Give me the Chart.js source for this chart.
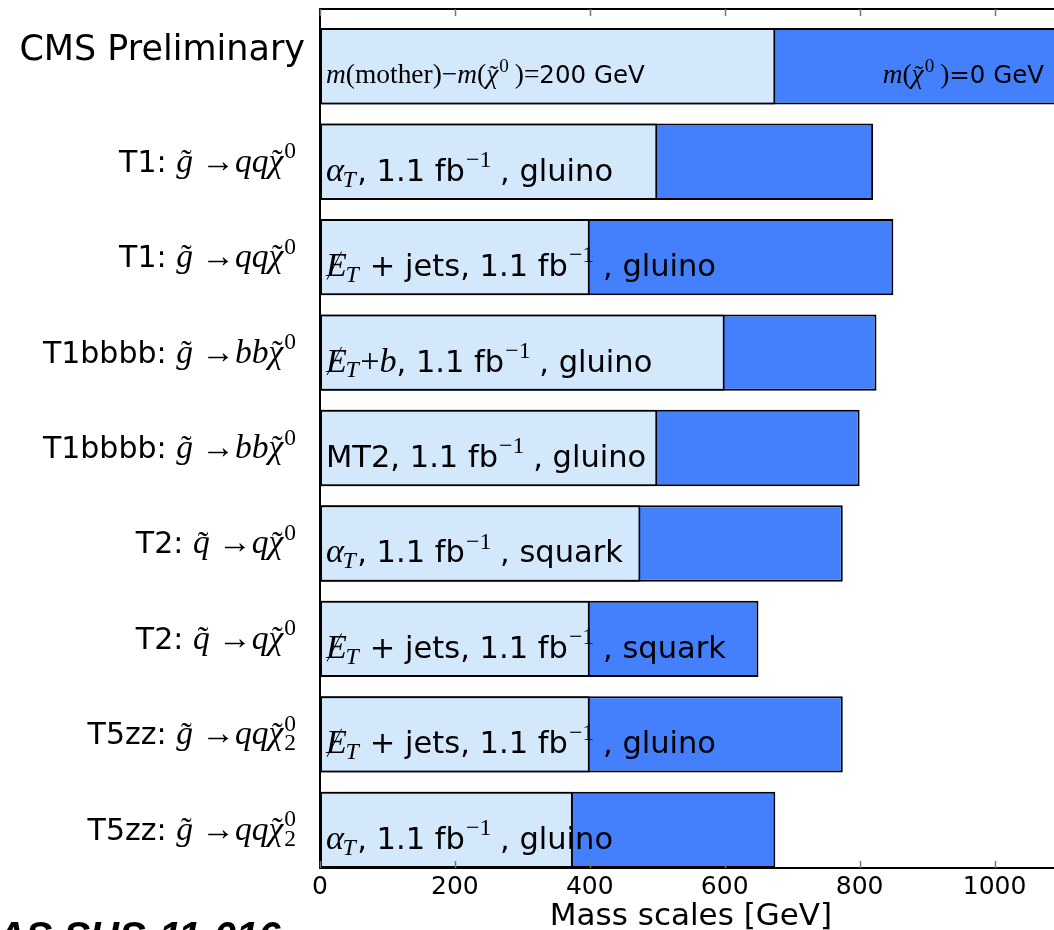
<!DOCTYPE html>
<html>
<head>
<meta charset="utf-8">
<script src="https://cdn.jsdelivr.net/npm/chart.js@4.4.0/dist/chart.umd.min.js"></script>
<style>
  html, body { margin: 0; padding: 0; background: #fff; overflow: hidden; }
  canvas { display: block; }
</style>
</head>
<body>
<canvas id="massChart" width="1066" height="930"></canvas>
<script>
// rows from top to bottom (row 0 is the legend row)
const rowLabels = [
    [['CMS Preliminary', 'sf']],
    [['T1: ', 'sf'], ['g', 'tl'], [' \u2192', 'rm'], ['qq', 'it'], ['\u03c7', 'tl'], ['0', 'sup']],
    [['T1: ', 'sf'], ['g', 'tl'], [' \u2192', 'rm'], ['qq', 'it'], ['\u03c7', 'tl'], ['0', 'sup']],
    [['T1bbbb: ', 'sf'], ['g', 'tl'], [' \u2192', 'rm'], ['bb', 'it'], ['\u03c7', 'tl'], ['0', 'sup']],
    [['T1bbbb: ', 'sf'], ['g', 'tl'], [' \u2192', 'rm'], ['bb', 'it'], ['\u03c7', 'tl'], ['0', 'sup']],
    [['T2: ', 'sf'], ['q', 'tl'], [' \u2192', 'rm'], ['q', 'it'], ['\u03c7', 'tl'], ['0', 'sup']],
    [['T2: ', 'sf'], ['q', 'tl'], [' \u2192', 'rm'], ['q', 'it'], ['\u03c7', 'tl'], ['0', 'sup']],
    [['T5zz: ', 'sf'], ['g', 'tl'], [' \u2192', 'rm'], ['qq', 'it'], ['\u03c7', 'tl'], ['0|2', 'supsub']],
    [['T5zz: ', 'sf'], ['g', 'tl'], [' \u2192', 'rm'], ['qq', 'it'], ['\u03c7', 'tl'], ['0|2', 'supsub']]
];

const barTexts = [
    [['m', 'it'], ['(mother)\u2212', 'rm'], ['m', 'it'], ['(', 'rm'], ['\u03c7', 'tl'], ['0', 'sup'], [' )=', 'rm'], ['200 GeV', 'sf']],
    [['\u03b1', 'it'], ['T', 'subit'], [', 1.1 fb', 'sf'], ['\u22121', 'sup'], [' , gluino', 'sf']],
    [['E', 'met'], ['T', 'subit'], [' + jets, 1.1 fb', 'sf'], ['\u22121', 'sup'], [' , gluino', 'sf']],
    [['E', 'met'], ['T', 'subit'], ['+', 'rm'], ['b', 'it'], [', 1.1 fb', 'sf'], ['\u22121', 'sup'], [' , gluino', 'sf']],
    [['MT2, 1.1 fb', 'sf'], ['\u22121', 'sup'], [' , gluino', 'sf']],
    [['\u03b1', 'it'], ['T', 'subit'], [', 1.1 fb', 'sf'], ['\u22121', 'sup'], [' , squark', 'sf']],
    [['E', 'met'], ['T', 'subit'], [' + jets, 1.1 fb', 'sf'], ['\u22121', 'sup'], [' , squark', 'sf']],
    [['E', 'met'], ['T', 'subit'], [' + jets, 1.1 fb', 'sf'], ['\u22121', 'sup'], [' , gluino', 'sf']],
    [['\u03b1', 'it'], ['T', 'subit'], [', 1.1 fb', 'sf'], ['\u22121', 'sup'], [' , gluino', 'sf']]
];
const legendRightText = [['m', 'it'], ['(', 'rm'], ['\u03c7', 'tl'], ['0', 'sup'], [' )', 'rm'], ['=0 GeV', 'sf']];

// mass limits in GeV
const limitsDm200 = [675, 500, 400, 600, 500, 475, 400, 400, 375];   // m(mother)-m(LSP)=200 GeV
const limitsLsp0  = [1200, 820, 850, 825, 800, 775, 650, 775, 675];  // m(LSP)=0 GeV

const xTicks = [0, 200, 400, 600, 800, 1000];

const MATH = 1.12;

function segFont(kind, size) {
    const m = size * MATH;
    switch (kind) {
        case 'sf': return size + 'px "DejaVu Sans"';
        case 'it': case 'met': case 'tl': return 'italic ' + m + 'px "Liberation Serif"';
        case 'rm': return m + 'px "Liberation Serif"';
        case 'subit': return 'italic ' + (m * 0.7) + 'px "Liberation Serif"';
        default: return (m * 0.7) + 'px "Liberation Serif"';
    }
}

function segWidth(ctx, seg, size) {
    ctx.font = segFont(seg[1], size);
    if (seg[1] === 'supsub') {
        return Math.max(...seg[0].split('|').map(t => ctx.measureText(t).width));
    }
    return ctx.measureText(seg[0]).width;
}

function drawRich(ctx, segs, x, y, size, align) {
    let total = 0;
    segs.forEach(s => total += segWidth(ctx, s, size));
    let cx = align === 'right' ? x - total : x;
    const m = size * MATH;
    ctx.textAlign = 'left';
    ctx.textBaseline = 'alphabetic';
    ctx.fillStyle = '#000';
    segs.forEach(s => {
        const w = segWidth(ctx, s, size);
        ctx.font = segFont(s[1], size);
        if (s[1] === 'sup') {
            ctx.fillText(s[0], cx + 1, y - m * 0.4);
        } else if (s[1] === 'subit') {
            ctx.fillText(s[0], cx - m * 0.04, y + m * 0.17);
        } else if (s[1] === 'supsub') {
            const parts = s[0].split('|');
            ctx.fillText(parts[0], cx + 1, y - m * 0.4);
            ctx.fillText(parts[1], cx + 1, y + m * 0.17);
        } else if (s[1] === 'tl') {
            ctx.fillText(s[0], cx, y);
            ctx.font = (m * 0.95) + 'px "Liberation Serif"';
            ctx.textAlign = 'center';
            ctx.fillText('\u02dc', cx + w * 0.6, y - m * 0.02);
            ctx.textAlign = 'left';
        } else if (s[1] === 'met') {
            ctx.fillText(s[0], cx, y);
            ctx.save();
            ctx.strokeStyle = '#000';
            ctx.lineWidth = 1;
            ctx.beginPath();
            ctx.moveTo(cx + w * 0.05, y + m * 0.1);
            ctx.lineTo(cx + w * 0.75, y - m * 0.72);
            ctx.stroke();
            ctx.restore();
        } else {
            ctx.fillText(s[0], cx, y);
        }
        cx += w;
    });
}

const decorations = {
    id: 'decorations',
    afterDatasetsDraw(chart) {
        const ctx = chart.ctx;
        const area = chart.chartArea;
        const xs = chart.scales.x;
        const ys = chart.scales.y;

        // frame
        ctx.save();
        ctx.strokeStyle = '#000';
        ctx.lineWidth = 2;
        ctx.strokeRect(area.left, area.top, area.right - area.left, area.bottom - area.top);

        // inward ticks top and bottom
        ctx.strokeStyle = '#777';
        ctx.lineWidth = 1.5;
        xTicks.forEach(v => {
            const px = Math.round(xs.getPixelForValue(v)) + 0.5;
            ctx.beginPath();
            ctx.moveTo(px, area.bottom);
            ctx.lineTo(px, area.bottom - 7);
            ctx.moveTo(px, area.top);
            ctx.lineTo(px, area.top + 7);
            ctx.stroke();
        });

        // row labels and bar texts
        rowLabels.forEach((segs, i) => {
            const cy = ys.getPixelForValue(i);
            if (i === 0) {
                drawRich(ctx, segs, 305, cy - 6, 35, 'right');
                drawRich(ctx, barTexts[i], area.left + 6, cy + 17, 24.5, 'left');
                drawRich(ctx, legendRightText, 1044, cy + 17, 24.5, 'right');
            } else {
                drawRich(ctx, segs, 295, cy + 10, 30, 'right');
                drawRich(ctx, barTexts[i], area.left + 6, cy + 19, 30.5, 'left');
            }
        });

        // analysis reference, cut at the bottom edge
        ctx.font = 'italic bold 40px "Liberation Sans"';
        ctx.fillStyle = '#000';
        ctx.textAlign = 'left';
        ctx.fillText('PAS SUS-11-016', -27, 950);
        ctx.restore();
    }
};

const ctx = document.getElementById('massChart').getContext('2d');

new Chart(ctx, {
    type: 'bar',
    data: {
        datasets: [
            {
                label: 'm(mother)-m(LSP)=200 GeV',
                data: limitsDm200.map((v, i) => ({ x: v, y: i })),
                backgroundColor: '#d4e8fc',
                borderColor: '#000',
                borderWidth: 2,
                borderSkipped: false,
                grouped: false,
                categoryPercentage: 1,
                barPercentage: 0.8
            },
            {
                label: 'm(LSP)=0 GeV',
                data: limitsLsp0.map((v, i) => ({ x: v, y: i })),
                backgroundColor: '#4480fc',
                borderColor: '#000',
                borderWidth: 2,
                borderSkipped: false,
                grouped: false,
                categoryPercentage: 1,
                barPercentage: 0.8
            }
        ]
    },
    options: {
        indexAxis: 'y',
        responsive: false,
        animation: false,
        devicePixelRatio: 1,
        layout: {
            padding: { top: 9, right: 4, left: 0, bottom: 0 }
        },
        plugins: {
            legend: { display: false },
            tooltip: { enabled: false }
        },
        scales: {
            x: {
                type: 'linear',
                min: 0,
                max: 1100,
                grid: { display: false, drawTicks: false },
                border: { display: false },
                ticks: {
                    stepSize: 200,
                    includeBounds: false,
                    color: '#000',
                    padding: 4,
                    font: { family: 'DejaVu Sans', size: 25 },
                    callback: v => String(v)
                },
                title: {
                    display: true,
                    text: 'Mass scales [GeV]',
                    color: '#000',
                    padding: { top: 0, bottom: 0 },
                    font: { family: 'DejaVu Sans', size: 31, lineHeight: 0.85 }
                },
                afterFit: scale => { scale.height = 62; }
            },
            y: {
                type: 'linear',
                reverse: true,
                offset: false,
                min: -0.6,
                max: 8.4,
                grid: { display: false, offset: false },
                border: { display: false },
                ticks: { display: false, stepSize: 1, includeBounds: false },
                afterFit: scale => { scale.width = 320; }
            }
        }
    },
    plugins: [decorations]
});
</script>
</body>
</html>
